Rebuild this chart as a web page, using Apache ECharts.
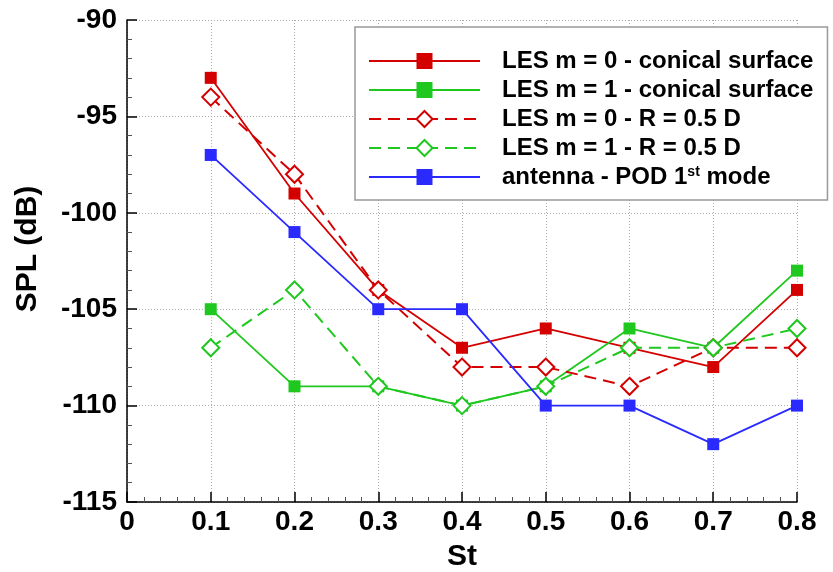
<!DOCTYPE html>
<html>
<head>
<meta charset="utf-8">
<script src="https://cdn.jsdelivr.net/npm/echarts@6/dist/echarts.min.js"></script>
<style>
  html, body { margin: 0; padding: 0; background: #fff; }
  #chart { width: 833px; height: 572px; }
</style>
</head>
<body>
<div id="chart"></div>
<script>
// Strouhal numbers
const st = [0.1, 0.2, 0.3, 0.4, 0.5, 0.6, 0.7, 0.8];

// SPL (dB) per case
const lesM0Conical = [-93, -99, -104, -107, -106, -107, -108, -104];
const lesM1Conical = [-105, -109, -109, -110, -109, -106, -107, -103];
const lesM0R05 = [-94, -98, -104, -108, -108, -109, -107, -107];
const lesM1R05 = [-107, -104, -109, -110, -109, -107, -107, -106];
const antennaPod1 = [-97, -101, -105, -105, -110, -110, -112, -110];

const seriesNames = [
  'LES m = 0 - conical surface',
  'LES m = 1 - conical surface',
  'LES m = 0 - R = 0.5 D',
  'LES m = 1 - R = 0.5 D',
  'antenna - POD 1st mode'
];

const RED = '#d40000';
const GREEN = '#1ec81e';
const BLUE = '#2a2aff';
const FONT = '"Liberation Sans", Arial, sans-serif';

function pairs(ys) { return st.map((x, i) => [x, ys[i]]); }

function mk(name, ys, color, symbol, size, dashed) {
  return {
    name: name,
    type: 'line',
    data: pairs(ys),
    symbol: symbol,
    symbolSize: size,
    showAllSymbol: true,
    lineStyle: { color: color, width: dashed ? 2 : 1.8, type: dashed ? [12, 7] : 'solid' },
    itemStyle: { color: color, borderColor: color, borderWidth: symbol.indexOf('empty') === 0 ? 1.6 : 0 },
    emphasis: { disabled: true },
    animation: false
  };
}

const chart = echarts.init(document.getElementById('chart'), null, { renderer: 'canvas' });

chart.setOption({
  backgroundColor: '#fff',
  animation: false,
  grid: { left: 127, right: 36, top: 20, bottom: 70, containLabel: false, outerBoundsMode: 'none' },
  legend: {
    orient: 'vertical',
    left: 355,
    top: 27,
    backgroundColor: '#fff',
    borderColor: '#999',
    borderWidth: 1.5,
    borderRadius: 0,
    padding: [22, 14, 11, 13],
    itemWidth: 111,
    itemHeight: 20,
    itemGap: 5,
    selectedMode: false,
    data: seriesNames,
    formatter: function (name) {
      if (name === 'antenna - POD 1st mode') {
        return '{t|antenna - POD 1}{s|st}{t| mode}';
      }
      return '{t|' + name + '}';
    },
    textStyle: {
      fontFamily: FONT,
      fontWeight: 'bold',
      fontSize: 24,
      lineHeight: 24,
      color: '#000',
      padding: [0, 0, 0, 17],
      rich: {
        t: { fontFamily: FONT, fontWeight: 'bold', fontSize: 24, lineHeight: 24, color: '#000' },
        s: { fontFamily: FONT, fontWeight: 'bold', fontSize: 14, lineHeight: 24, color: '#000', verticalAlign: 'top', padding: [0, 0, 10, 0] }
      }
    }
  },
  xAxis: {
    type: 'value',
    min: 0,
    max: 0.8,
    interval: 0.1,
    name: 'St',
    nameLocation: 'middle',
    nameGap: 40,
    nameTextStyle: { fontFamily: FONT, fontWeight: 'bold', fontSize: 30, color: '#000' },
    axisLine: { show: true, lineStyle: { color: '#000', width: 1.5 } },
    axisTick: { show: true, inside: true, length: 10, lineStyle: { color: '#000', width: 1.5 } },
    minorTick: { show: true, splitNumber: 5, length: 5, lineStyle: { color: '#555', width: 1 } },
    axisLabel: {
      margin: 6,
      fontFamily: FONT, fontWeight: 'bold', fontSize: 28, color: '#000',
      formatter: function (v) { return v === 0 ? '0' : v.toFixed(1); }
    },
    splitLine: { show: true, lineStyle: { color: '#aaa', width: 1, type: [1, 2] } }
  },
  yAxis: {
    type: 'value',
    min: -115,
    max: -90,
    interval: 5,
    name: 'SPL (dB)',
    nameLocation: 'middle',
    nameGap: 84,
    nameRotate: 90,
    nameTextStyle: { fontFamily: FONT, fontWeight: 'bold', fontSize: 30, color: '#000', padding: [0, 0, 0, 24] },
    axisLine: { show: true, lineStyle: { color: '#000', width: 1.5 } },
    axisTick: { show: true, inside: true, length: 10, lineStyle: { color: '#000', width: 1.5 } },
    minorTick: { show: true, splitNumber: 5, length: 5, lineStyle: { color: '#555', width: 1 } },
    axisLabel: {
      margin: 10,
      fontFamily: FONT, fontWeight: 'bold', fontSize: 28, color: '#000'
    },
    splitLine: { show: true, lineStyle: { color: '#aaa', width: 1, type: [1, 2] } }
  },
  series: [
    mk(seriesNames[0], lesM0Conical, RED, 'rect', 12, false),
    mk(seriesNames[1], lesM1Conical, GREEN, 'rect', 12, false),
    mk(seriesNames[2], lesM0R05, RED, 'emptyDiamond', 17, true),
    mk(seriesNames[3], lesM1R05, GREEN, 'emptyDiamond', 17, true),
    mk(seriesNames[4], antennaPod1, BLUE, 'rect', 12, false)
  ]
});
</script>
</body>
</html>
